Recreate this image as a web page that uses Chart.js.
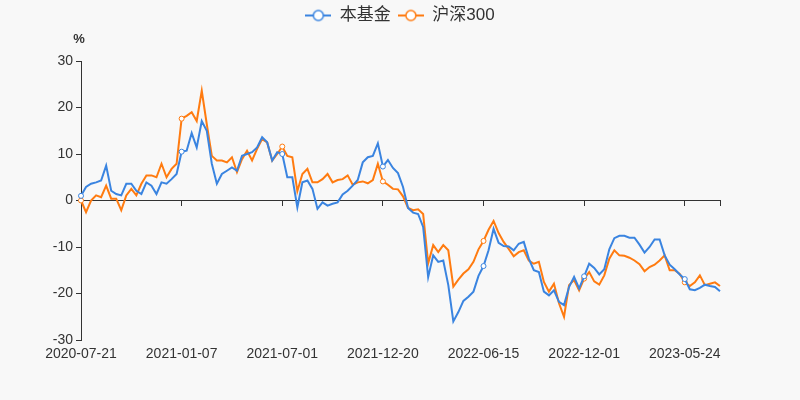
<!DOCTYPE html>
<html>
<head>
<meta charset="utf-8">
<script src="https://cdn.jsdelivr.net/npm/chart.js@4.4.0/dist/chart.umd.min.js"></script>
<style>
  html, body { margin: 0; padding: 0; background: #f8f8f8; }
  #wrap { width: 800px; height: 400px; }
</style>
</head>
<body>
<div id="wrap"><canvas id="myChart" width="800" height="400"></canvas></div>
<script>
// every 20th point carries a date label
const tickLabels = ['2020-07-21', '2021-01-07', '2021-07-01', '2021-12-20', '2022-06-15', '2022-12-01', '2023-05-24'];

const fund = [
  1.0, 2.9, 3.6, 3.9, 4.3, 7.5, 2.1, 1.4, 1.1, 3.6,
  3.6, 2.1, 1.4, 3.9, 3.2, 1.4, 3.9, 3.6, 4.6, 5.7,
  10.5, 10.7, 14.5, 11.4, 17.1, 15.0, 7.9, 3.6, 5.7, 6.4,
  7.1, 6.4, 9.6, 10.0, 10.4, 11.4, 13.6, 12.5, 8.6, 10.4,
  10.0, 5.0, 5.0, -1.5, 3.9, 4.3, 2.5, -1.8, -0.4, -1.1,
  -0.7, -0.4, 1.3, 2.1, 3.2, 4.4, 8.2, 9.3, 9.6, 12.3,
  7.3, 8.7, 7.0, 5.9, 2.9, -1.6, -2.6, -2.9, -5.7, -16.5,
  -11.8, -13.2, -12.9, -18.2, -26.0, -24.0, -21.6, -20.7, -19.6, -16.2,
  -14.1, -10.7, -6.1, -9.1, -9.8, -9.9, -10.7, -9.3, -8.9, -12.5,
  -15.0, -15.4, -19.6, -20.4, -19.3, -21.8, -22.5, -18.6, -16.4, -18.9,
  -16.3, -13.6, -14.5, -15.9, -14.8, -10.5, -8.1, -7.6, -7.6, -8.0,
  -8.0, -9.5, -11.2, -10.0, -8.4, -8.4, -11.8, -13.8, -14.8, -15.9,
  -16.9, -19.1, -19.3, -18.8, -18.1, -18.4, -18.6, -19.5
];

const hs300 = [
  0, -2.5, 0, 1.1, 0.7, 3.2, 0.4, 0.4, -2.1, 1.1,
  2.5, 1.1, 3.6, 5.4, 5.4, 5.0, 7.9, 5.0, 6.8, 7.9,
  17.6, 18.2, 19.0, 17.1, 23.6, 16.4, 9.6, 8.6, 8.6, 8.2,
  9.3, 6.1, 8.9, 10.7, 8.6, 11.1, 13.2, 12.5, 8.6, 10.0,
  11.6, 9.6, 9.3, 2.0, 5.7, 6.8, 3.9, 3.9, 4.6, 5.7,
  3.9, 4.4, 4.6, 5.4, 3.4, 3.9, 4.1, 3.7, 4.4, 7.9,
  4.1, 3.4, 2.5, 2.4, 0.9, -1.6, -2.1, -1.9, -2.9, -13.5,
  -9.6, -11.1, -9.6, -10.7, -18.5, -17.0, -15.7, -14.8, -13.2, -10.5,
  -8.7, -6.3, -4.4, -7.0, -8.9, -10.4, -12.0, -11.1, -10.7, -12.9,
  -13.6, -13.2, -17.5, -19.6, -17.9, -22.1, -25.0, -18.2, -17.1, -19.3,
  -16.8, -15.4, -17.4, -18.1, -16.1, -12.5, -10.7, -11.8, -11.9, -12.3,
  -12.9, -13.7, -15.2, -14.3, -13.8, -12.9, -11.8, -15.0, -15.0, -15.8,
  -17.6, -18.4, -17.6, -16.1, -18.2, -17.9, -17.6, -18.4
];

const labelStep = 20;
const lastIdx = fund.length - 1;
const blue = '#3a84e0';
const orange = '#ff7b10';
const fontFamily = '"Liberation Sans", "Noto Sans CJK SC", sans-serif';

function legendIcon(color) {
  const c = document.createElement('canvas');
  c.width = 26; c.height = 14;
  const g = c.getContext('2d');
  g.strokeStyle = color;
  g.lineWidth = 2;
  g.beginPath(); g.moveTo(0, 7); g.lineTo(26, 7); g.stroke();
  g.fillStyle = '#fff';
  g.lineWidth = 1.5;
  g.beginPath(); g.arc(13, 7, 5, 0, Math.PI * 2); g.fill(); g.stroke();
  return c;
}
const icons = [legendIcon(blue), legendIcon(orange)];

const extras = {
  id: 'extras',
  beforeInit(chart) {
    // leave room between legend and plot, like the original
    const lg = chart.legend;
    if (lg) {
      const fit = lg.fit.bind(lg);
      lg.fit = function () { fit(); this.height += 27; };
    }
  },
  beforeDraw(chart) {
    const ctx = chart.ctx;
    ctx.save();
    ctx.fillStyle = '#f8f8f8';
    ctx.fillRect(0, 0, chart.width, chart.height);
    ctx.restore();
  },
  afterDraw(chart) {
    const ctx = chart.ctx;
    const a = chart.chartArea;
    ctx.save();
    ctx.font = 'bold 13px ' + fontFamily;
    ctx.fillStyle = '#333';
    ctx.textAlign = 'center';
    ctx.textBaseline = 'middle';
    ctx.fillText('%', a.left - 2, a.top - 22);
    ctx.restore();
  }
};

const ctx = document.getElementById('myChart');

new Chart(ctx, {
  type: 'line',
  data: {
    labels: fund.map((_, i) => i),
    datasets: [{
      label: '本基金',
      data: fund,
      borderColor: blue,
      borderWidth: 2,
      pointRadius: c => (c.dataIndex % labelStep === 0 ? 2.5 : 0),
      pointBackgroundColor: '#fff',
      pointBorderColor: blue,
      pointBorderWidth: 1,
      tension: 0
    }, {
      label: '沪深300',
      data: hs300,
      borderColor: orange,
      borderWidth: 2,
      pointRadius: c => (c.dataIndex % labelStep === 0 ? 2.5 : 0),
      pointBackgroundColor: '#fff',
      pointBorderColor: orange,
      pointBorderWidth: 1,
      tension: 0
    }]
  },
  options: {
    responsive: false,
    animation: false,
    layout: { padding: { top: 0, right: 0, left: 0, bottom: 0 } },
    plugins: {
      legend: {
        position: 'top',
        labels: {
          usePointStyle: true,
          pointStyleWidth: 26,
          color: '#333',
          padding: 7,
          font: { size: 17, family: fontFamily },
          generateLabels(chart) {
            const items = Chart.defaults.plugins.legend.labels.generateLabels(chart);
            items.forEach((it, i) => { it.pointStyle = icons[i]; });
            return items;
          }
        }
      },
      tooltip: { enabled: false }
    },
    scales: {
      x: {
        type: 'category',
        position: 'bottom',
        offset: false,
        grid: { display: false, drawTicks: false },
        border: { display: false },
        ticks: {
          autoSkip: false,
          maxRotation: 0,
          minRotation: 0,
          padding: 6,
          color: '#333',
          font: { size: 14, family: fontFamily },
          callback: (v, i) => (i % labelStep === 0 ? tickLabels[i / labelStep] : '')
        },
        afterFit(scale) { scale.height = 60; }
      },
      x0: {
        type: 'category',
        position: { y: 0 },
        offset: false,
        grid: {
          drawOnChartArea: false,
          drawTicks: true,
          tickLength: 5,
          color: c => ((c.index % labelStep === 0 || c.index === lastIdx) ? '#333' : 'rgba(0,0,0,0)')
        },
        border: { display: true, color: '#333', width: 1 },
        ticks: { display: false, autoSkip: false }
      },
      y: {
        min: -30,
        max: 30,
        grid: { drawOnChartArea: false, drawTicks: true, tickLength: 5, color: '#333' },
        border: { display: true, color: '#333', width: 1 },
        ticks: {
          stepSize: 10,
          padding: 3,
          color: '#333',
          font: { size: 14, family: fontFamily }
        },
        afterFit(scale) { scale.width = 81; }
      },
      yR: {
        position: 'right',
        grid: { display: false },
        border: { display: false },
        ticks: { display: false },
        afterFit(scale) { scale.width = 80; }
      }
    }
  },
  plugins: [extras]
});
</script>
</body>
</html>
